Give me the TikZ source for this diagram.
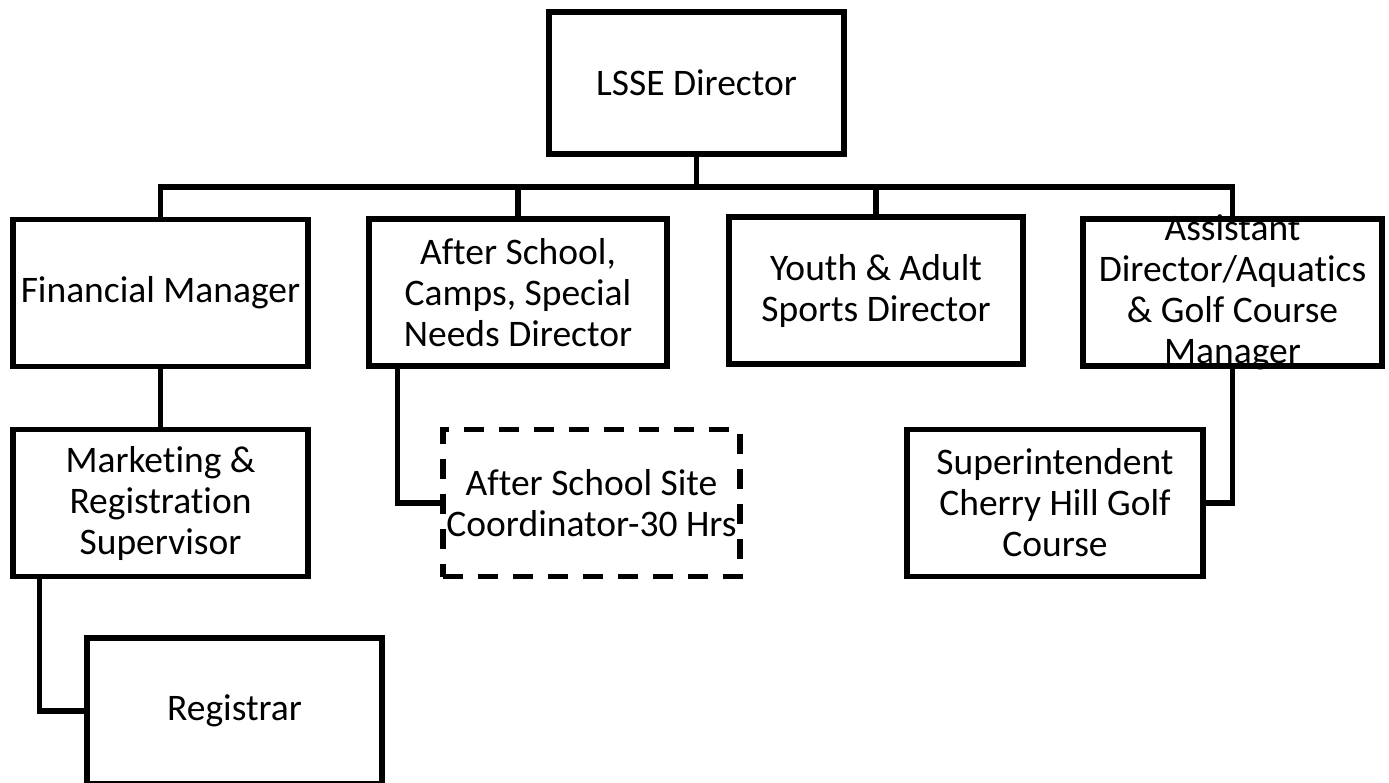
\documentclass[tikz,border=0pt]{standalone}
\usepackage{fontspec}
\setmainfont[Ligatures=NoCommon]{Carlito}
\usetikzlibrary{calc}
\tikzset{
  box/.style={draw=black, line width=5.5pt, fill=white, minimum width=295pt, minimum height=147pt, inner sep=0pt},
  dashbox/.style={box, dash pattern=on 20pt off 15pt},
  conn/.style={draw=black, line width=5.5pt},
  txt/.style={align=center, font=\fontsize{37.5pt}{41pt}\selectfont, inner sep=0pt}
}
\begin{document}
\begin{tikzpicture}[x=1pt, y=-1pt]
\useasboundingbox[fill=white] (0,0) rectangle (1389,782);
\coordinate (bus) at (0,187);
\node[box, minimum height=142pt, label={[txt]center:LSSE Director}] (dir) at (696.5,83) {};
\node[box, label={[txt]center:Financial Manager}] (fm) at (160.5,293) {};
\node[box, minimum width=298pt, label={[txt]center:After School,\\Camps, Special\\Needs Director}] (asd) at (518,292.5) {};
\node[box, minimum width=294pt, label={[txt]center:Youth \& Adult\\Sports Director}] (youth) at (876,290.5) {};
\node[box, minimum width=299pt] (asst) at (1232.5,292.5) {};
\node[box, label={[txt]center:Marketing \&\\Registration\\Supervisor}] (mkt) at (160.5,503) {};
\node[box, minimum height=146pt, label={[txt]center:Registrar}] (reg) at (234.5,711) {};
\node[dashbox, minimum width=297pt, label={[txt]center:After School Site\\Coordinator-30 Hrs}] (site) at (591.5,503) {};
\node[box, minimum width=296pt, label={[txt]center:Superintendent\\Cherry Hill Golf\\Course}] (sup) at (1055,503) {};
\draw[conn] (dir.south) -- (dir.south |- bus);
\draw[conn] (fm.north) -- (fm.north |- bus) -- (asst.north |- bus) -- (asst.north);
\draw[conn] (asd.north) -- (asd.north |- bus);
\draw[conn] (youth.north) -- (youth.north |- bus);
\draw[conn] (fm.south) -- (mkt.north);
\draw[conn] ($(mkt.south west)+(29,0)$) |- (reg.west);
\draw[conn] ($(asd.south west)+(31,0)$) |- (site.west);
\draw[conn] (asst.south) |- (sup.east);
\node[txt] (asstlabel) at (asst.center) {Assistant\\Director/Aquatics\\\& Golf Course\\Manager};
\end{tikzpicture}
\end{document}
